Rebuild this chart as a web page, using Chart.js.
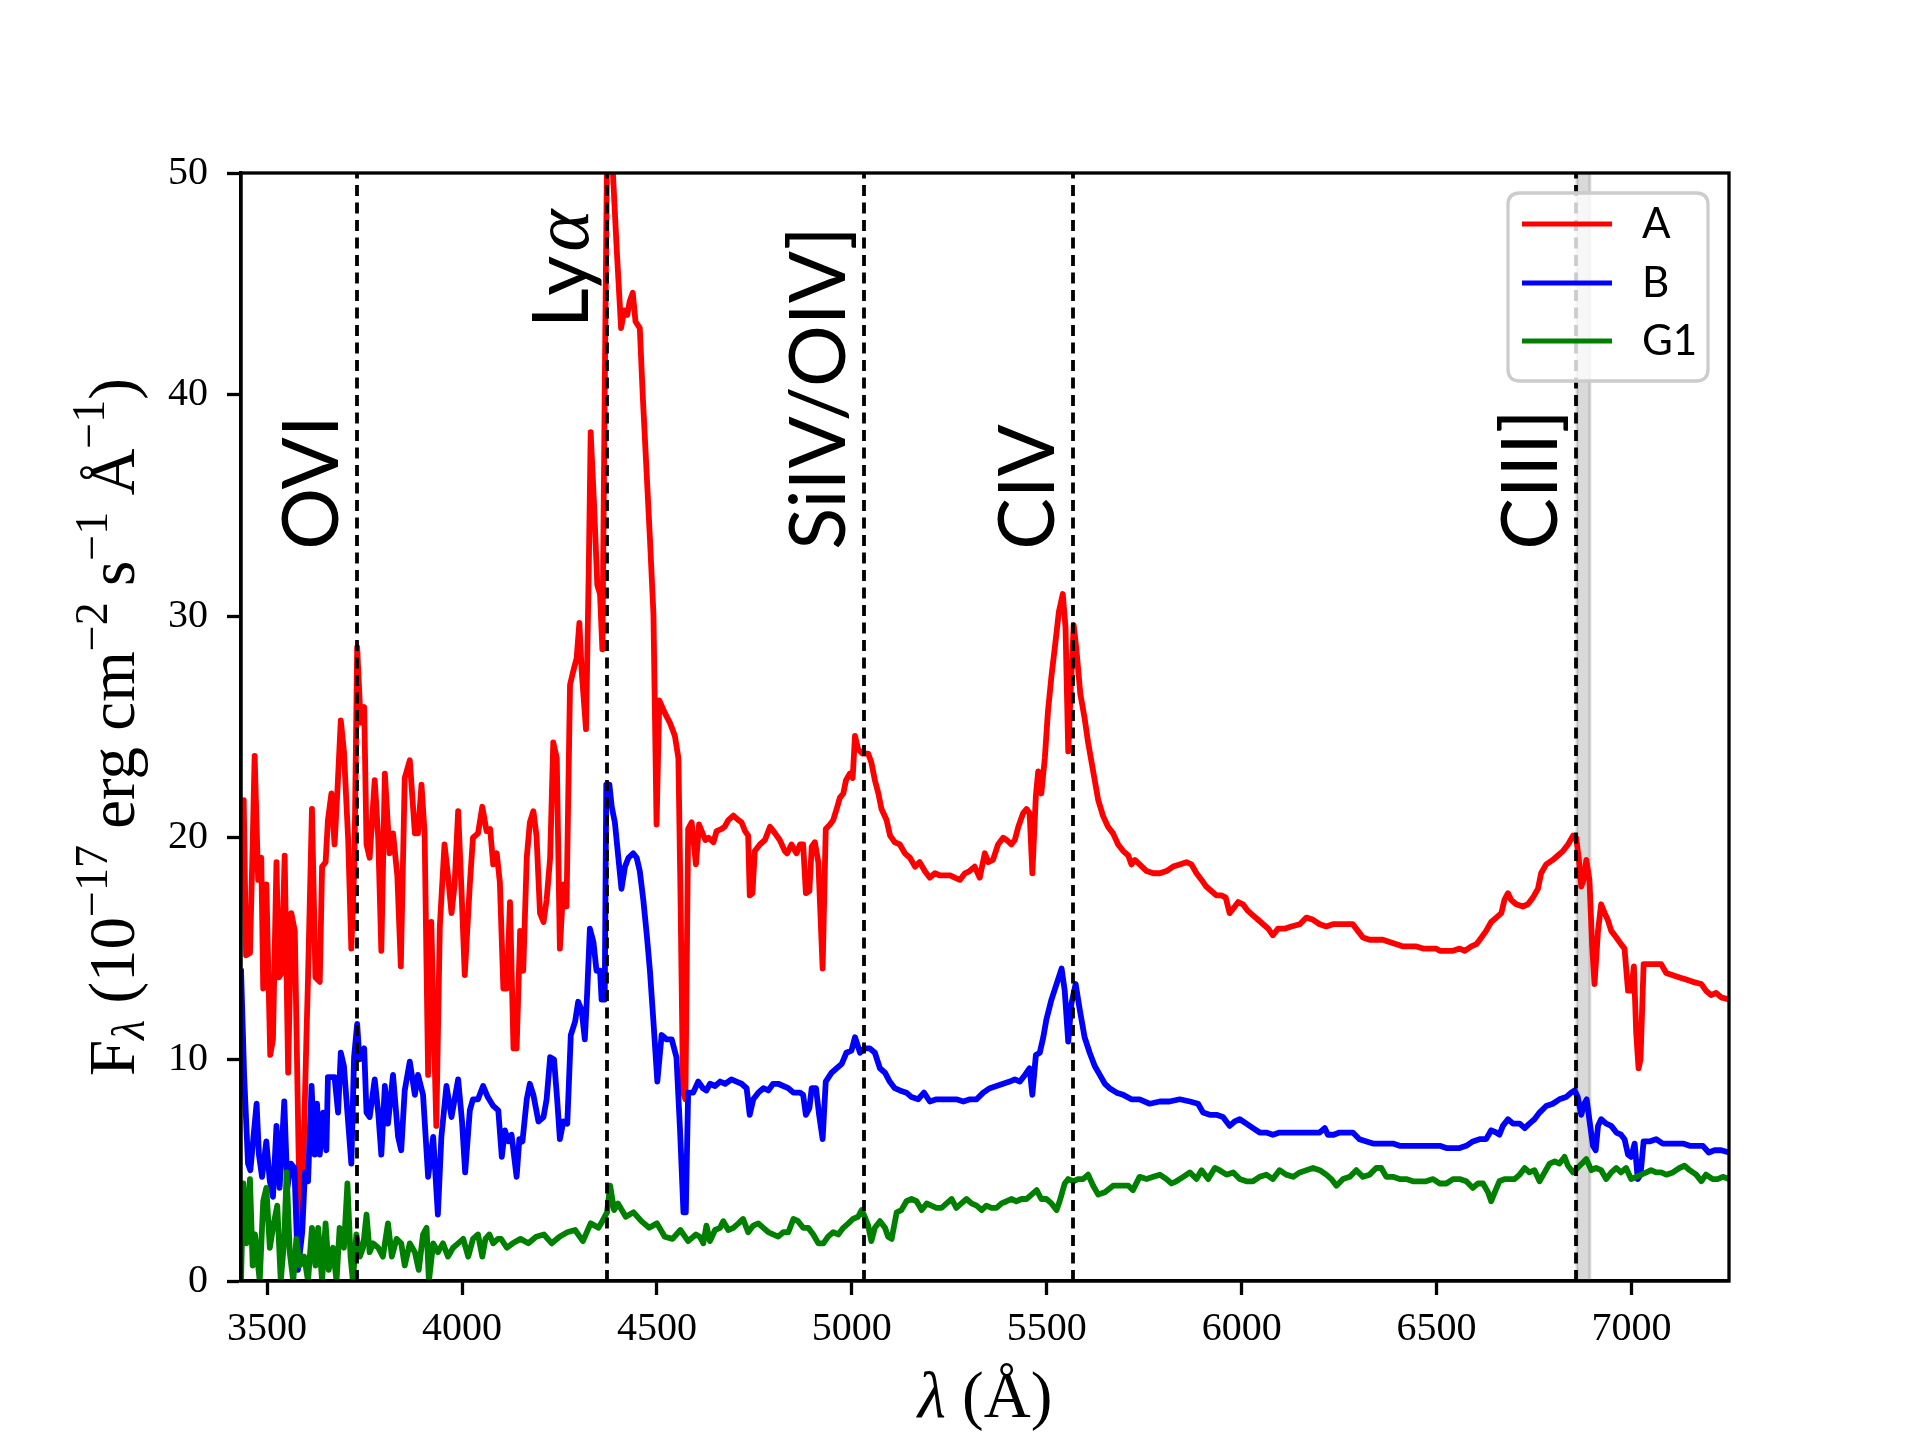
<!DOCTYPE html>
<html>
<head>
<meta charset="utf-8">
<title>Spectra of A, B and G1</title>
<script src="https://cdn.jsdelivr.net/npm/chart.js@4.4.1/dist/chart.umd.min.js"></script>
<style>
  html, body { margin: 0; padding: 0; background: #fff; }
  #wrap { width: 1920px; height: 1440px; }
</style>
</head>
<body>
<div id="wrap"><canvas id="chart" width="1920" height="1440"></canvas></div>
<script>
// ---- data (wavelength in Å, flux in 1e-17 erg/cm2/s/Å) ----
const waveA = [
  3433,3440,3446,3456,3462,3468,3477,3485,3490,3498,
  3508,3515,3524,3530,3537,3545,3554,3562,3571,3584,
  3592,3601,3605,3615,3624,3635,3641,3650,3656,3665,
  3673,3680,3689,3697,3708,3716,3724,3731,3740,3749,
  3755,3763,3776,3785,3793,3802,3814,3823,3834,3843,
  3853,3866,3879,3887,3896,3904,3913,3921,3934,3943,
  3955,3964,3973,3981,3990,3998,4007,4020,4028,4041,
  4052,4063,4072,4080,4089,4097,4106,4115,4123,4132,
  4140,4149,4157,4166,4174,4183,4191,4200,4209,4217,
  4226,4234,4243,4251,4260,4268,4277,4285,4294,4301,
  4307,4318,4325,4330,4339,4347,4354,4360,4366,4372,
  4380,4387,4397,4408,4416,4424,4430,4438,4445,4456,
  4464,4474,4482,4491,4499,4506,4521,4533,4546,4555,
  4560,4567,4573,4580,4589,4600,4608,4624,4632,4645,
  4653,4666,4674,4683,4696,4709,4717,4726,4734,4738,
  4745,4751,4764,4777,4790,4803,4815,4828,4834,4845,
  4858,4867,4875,4882,4891,4897,4905,4914,4925,4933,
  4944,4952,4961,4969,4978,4985,4995,5002,5008,5016,
  5027,5042,5050,5059,5068,5076,5089,5098,5110,5123,
  5136,5149,5162,5174,5187,5200,5213,5226,5239,5252,
  5264,5277,5290,5302,5315,5328,5341,5350,5362,5375,
  5388,5397,5409,5418,5427,5439,5448,5456,5463,5472,
  5478,5486,5495,5503,5512,5522,5531,5541,5548,5555,
  5561,5569,5576,5586,5597,5606,5615,5623,5632,5644,
  5657,5670,5683,5696,5709,5717,5726,5738,5756,5773,
  5790,5807,5824,5841,5858,5871,5884,5897,5909,5922,
  5935,5948,5959,5969,5978,5991,6003,6016,6029,6042,
  6055,6068,6080,6093,6110,6127,6149,6166,6183,6200,
  6217,6234,6251,6268,6285,6298,6311,6328,6345,6362,
  6379,6397,6414,6431,6448,6465,6482,6499,6508,6525,
  6542,6559,6572,6589,6602,6615,6627,6640,6653,6666,
  6674,6683,6691,6704,6721,6734,6747,6760,6768,6781,
  6798,6811,6824,6837,6850,6858,6865,6871,6877,6884,
  6892,6899,6905,6914,6922,6931,6939,6948,6961,6973,
  6982,6991,6999,7006,7012,7018,7023,7031,7046,7063,
  7076,7089,7106,7123,7140,7157,7179,7191,7204,7217,
  7230,7250
];
const fluxA = [
  18.0,21.7,14.7,14.8,19.0,23.7,18.1,19.1,13.2,17.9,
  10.2,10.9,18.9,13.7,13.9,19.2,9.4,16.6,15.8,2.5,
  4.7,11.1,13.7,21.3,13.7,13.5,18.7,18.9,20.8,22.0,
  19.7,22.0,25.3,23.9,19.9,15.0,18.9,28.6,25.2,25.9,
  19.7,19.1,22.6,20.0,14.9,22.9,19.3,20.2,18.3,14.2,
  22.7,23.5,20.2,20.2,22.4,20.2,9.3,16.2,7.0,16.0,
  19.7,18.3,16.6,17.9,21.2,17.9,13.8,17.9,20.0,20.2,
  21.4,20.3,20.4,18.8,19.3,18.0,13.2,13.2,17.1,10.5,
  10.5,15.8,14.0,19.1,20.7,21.2,20.1,16.6,16.2,17.2,
  19.1,24.3,23.6,15.0,17.9,16.9,26.9,27.5,28.1,29.7,
  27.5,24.9,32.0,38.3,34.9,31.4,31.0,28.5,40.0,51.0,
  52.0,50.0,46.5,43.0,43.8,43.6,44.2,44.6,43.3,43.0,
  39.8,36.3,33.5,30.1,20.6,26.2,25.6,25.2,24.6,23.6,
  17.9,8.5,8.2,20.4,20.7,18.8,20.6,19.9,20.0,19.8,
  20.3,20.4,20.5,20.8,21.0,20.8,20.7,20.3,20.1,17.4,
  17.5,19.4,19.7,19.9,20.5,20.2,19.9,19.4,19.3,19.7,
  19.3,19.7,19.7,17.5,17.6,19.6,19.8,18.9,14.1,20.4,
  20.6,20.8,21.3,21.8,22.0,22.6,22.9,22.7,24.6,24.0,
  23.8,23.8,23.4,22.6,22.0,21.3,20.8,20.1,19.8,19.7,
  19.3,19.1,18.7,18.9,18.5,18.2,18.4,18.3,18.3,18.3,
  18.2,18.1,18.4,18.5,18.7,18.2,19.3,18.9,19.0,19.7,
  20.0,19.9,19.7,19.9,20.5,21.1,21.3,21.1,18.4,21.9,
  23.0,22.0,23.6,25.7,27.3,28.8,30.2,31.0,29.5,23.9,
  26.5,29.6,28.5,26.5,25.4,24.3,23.4,22.6,21.7,21.0,
  20.5,20.2,19.7,19.4,19.2,18.8,19.0,18.8,18.5,18.4,
  18.4,18.5,18.7,18.8,18.9,18.8,18.4,18.1,17.8,17.6,
  17.4,17.4,17.3,16.6,16.8,17.1,17.0,16.7,16.5,16.3,
  16.1,15.9,15.6,15.9,15.9,16.0,16.1,16.4,16.3,16.1,
  16.0,16.1,16.1,16.1,16.1,15.8,15.5,15.4,15.4,15.4,
  15.3,15.2,15.1,15.1,15.1,15.0,15.0,15.0,14.9,14.9,
  14.9,15.0,14.9,15.1,15.2,15.5,15.8,16.2,16.4,16.6,
  17.2,17.5,17.2,17.0,16.9,17.0,17.3,17.7,18.4,18.8,
  19.0,19.2,19.4,19.7,20.1,20.0,19.0,17.8,18.1,19.0,
  18.1,15.1,13.4,15.8,17.0,16.6,16.3,15.8,15.5,15.2,
  15.0,13.1,13.1,14.2,11.2,9.6,10.0,14.3,14.3,14.3,
  14.3,13.9,13.8,13.7,13.6,13.5,13.4,13.1,12.9,13.0,
  12.8,12.7
];

const waveB = [
  3433,3441,3451,3457,3473,3479,3487,3498,3507,3515,
  3524,3532,3544,3552,3561,3570,3579,3590,3597,3605,
  3614,3622,3628,3635,3644,3652,3656,3673,3682,3689,
  3697,3706,3716,3723,3731,3737,3749,3755,3763,3776,
  3785,3793,3802,3810,3823,3836,3844,3853,3866,3879,
  3887,3900,3913,3926,3938,3947,3960,3973,3990,4000,
  4008,4020,4028,4041,4054,4066,4080,4093,4102,4110,
  4119,4127,4140,4147,4155,4166,4174,4183,4196,4209,
  4217,4226,4236,4244,4251,4260,4270,4279,4290,4298,
  4307,4315,4321,4328,4337,4345,4354,4358,4366,4370,
  4378,4384,4392,4401,4409,4418,4427,4439,4448,4456,
  4465,4474,4482,4491,4501,4512,4525,4538,4550,4559,
  4568,4574,4580,4593,4606,4618,4627,4636,4649,4662,
  4675,4691,4704,4717,4730,4738,4747,4760,4773,4786,
  4798,4811,4824,4837,4850,4867,4875,4882,4891,4897,
  4908,4916,4925,4933,4948,4961,4974,4986,4999,5008,
  5021,5033,5046,5059,5072,5085,5097,5110,5123,5140,
  5153,5170,5185,5200,5217,5234,5251,5268,5286,5303,
  5320,5337,5354,5371,5388,5405,5418,5431,5444,5456,
  5463,5472,5482,5491,5499,5512,5525,5538,5546,5555,
  5563,5574,5585,5597,5610,5623,5636,5649,5661,5679,
  5696,5717,5738,5764,5790,5815,5841,5867,5888,5901,
  5918,5935,5952,5969,5982,5995,6012,6029,6046,6063,
  6080,6097,6115,6132,6149,6166,6183,6200,6213,6221,
  6236,6251,6268,6285,6302,6320,6337,6354,6371,6388,
  6405,6422,6439,6456,6473,6490,6508,6525,6542,6559,
  6576,6593,6610,6627,6640,6653,6661,6670,6683,6696,
  6713,6726,6738,6751,6764,6781,6798,6815,6832,6845,
  6854,6862,6871,6879,6885,6894,6901,6908,6914,6922,
  6935,6948,6961,6973,6982,6991,6999,7008,7016,7023,
  7031,7046,7063,7080,7097,7115,7132,7149,7166,7183,
  7198,7213,7230,7250
];
const fluxB = [
  14.1,9.3,5.3,5.0,8.0,5.7,4.7,6.3,4.5,3.8,
  7.0,4.2,8.1,4.2,5.3,5.1,0.5,2.2,4.9,4.5,
  8.8,5.7,8.0,5.7,7.6,5.9,9.2,9.2,7.6,10.3,
  9.7,7.6,5.3,10.1,11.6,10.0,10.5,7.6,7.4,9.1,
  7.6,5.7,8.8,7.1,9.3,6.5,5.9,8.6,9.9,8.4,
  9.3,8.4,4.7,6.5,3.0,6.5,8.8,7.4,9.1,7.2,
  4.9,7.7,8.2,8.2,8.8,8.3,7.9,7.7,5.6,6.8,
  6.3,6.6,4.7,6.4,6.3,8.2,8.9,8.4,7.2,7.4,
  8.2,10.1,10.0,8.2,6.4,7.2,7.1,11.1,11.7,12.6,
  12.2,10.9,13.0,15.9,15.3,14.0,14.0,12.7,12.7,22.4,
  22.4,21.4,20.7,19.1,17.7,18.7,19.1,19.3,19.1,18.5,
  17.2,15.6,14.0,11.7,9.0,11.1,10.9,10.9,10.1,6.9,
  3.1,3.1,8.5,8.5,9.0,8.7,8.6,8.9,8.8,9.0,
  8.9,9.1,9.0,8.9,8.7,7.5,8.2,8.5,8.7,8.6,
  8.9,8.9,8.8,8.7,8.5,8.5,8.4,7.5,7.8,8.7,
  8.7,7.5,6.4,9.0,9.4,9.6,9.8,10.3,10.4,11.0,
  10.3,10.5,10.5,10.3,9.6,9.4,9.0,8.7,8.6,8.5,
  8.3,8.2,8.5,8.1,8.2,8.2,8.2,8.2,8.1,8.2,
  8.2,8.5,8.7,8.8,8.9,9.0,9.1,9.0,9.3,9.6,
  8.4,10.2,10.3,11.0,11.8,12.7,13.4,14.1,13.1,10.8,
  12.5,13.4,12.2,11.0,10.3,9.7,9.3,8.9,8.7,8.5,
  8.4,8.2,8.2,8.0,8.1,8.1,8.2,8.1,8.0,7.6,
  7.5,7.5,7.4,7.0,7.2,7.3,7.1,6.9,6.7,6.7,
  6.6,6.7,6.7,6.7,6.7,6.7,6.7,6.7,6.9,6.6,
  6.6,6.7,6.7,6.7,6.4,6.3,6.2,6.2,6.2,6.2,
  6.1,6.1,6.1,6.1,6.1,6.1,6.1,6.0,6.0,6.0,
  6.1,6.3,6.4,6.4,6.8,6.7,6.6,7.0,7.3,7.1,
  7.1,6.9,7.1,7.3,7.6,7.9,8.0,8.2,8.3,8.5,
  8.6,8.3,7.5,8.0,8.2,7.0,6.1,5.9,7.0,7.3,
  7.1,7.0,6.7,6.6,6.4,5.7,5.6,6.2,4.6,4.8,
  6.3,6.3,6.4,6.2,6.2,6.2,6.2,6.1,6.1,6.1,
  5.8,5.9,5.9,5.8
];

const waveG = [
  3433,3439,3447,3456,3463,3469,3481,3490,3498,3507,
  3515,3526,3535,3544,3550,3558,3567,3575,3584,3595,
  3605,3615,3624,3631,3641,3650,3658,3669,3678,3686,
  3697,3706,3714,3720,3729,3738,3746,3755,3763,3772,
  3785,3797,3810,3820,3832,3844,3853,3866,3879,3889,
  3900,3909,3915,3926,3938,3951,3964,3977,3990,4003,
  4016,4028,4041,4052,4060,4070,4080,4092,4100,4115,
  4130,4150,4170,4190,4210,4230,4250,4270,4290,4310,
  4330,4350,4360,4372,4380,4390,4400,4420,4440,4460,
  4480,4500,4520,4540,4560,4580,4600,4610,4619,4627,
  4636,4649,4662,4670,4683,4696,4709,4721,4734,4747,
  4760,4773,4786,4798,4811,4824,4837,4850,4862,4875,
  4888,4901,4914,4927,4939,4952,4965,4978,4991,5003,
  5016,5025,5033,5042,5050,5059,5072,5085,5093,5102,
  5115,5127,5140,5153,5166,5179,5192,5204,5217,5230,
  5243,5256,5268,5281,5294,5307,5320,5333,5345,5358,
  5371,5384,5397,5409,5422,5435,5448,5461,5474,5486,
  5499,5512,5525,5533,5546,5555,5568,5580,5593,5606,
  5619,5632,5649,5670,5691,5709,5721,5738,5756,5773,
  5790,5807,5820,5832,5850,5867,5884,5897,5914,5931,
  5943,5961,5978,5995,6012,6029,6046,6063,6080,6097,
  6114,6132,6149,6166,6183,6200,6217,6230,6243,6260,
  6277,6294,6311,6328,6345,6358,6371,6388,6405,6422,
  6439,6456,6473,6491,6508,6525,6542,6559,6576,6593,
  6606,6619,6632,6640,6649,6661,6674,6687,6700,6713,
  6726,6738,6751,6764,6777,6790,6803,6815,6828,6837,
  6850,6867,6884,6897,6909,6922,6935,6948,6961,6973,
  6986,6999,7012,7025,7038,7050,7063,7076,7089,7106,
  7123,7136,7149,7166,7179,7191,7208,7221,7234,7250
];
const fluxG = [
  0.0,4.4,1.7,4.6,0.7,2.1,0.0,3.6,4.2,1.5,
  2.4,3.4,0.0,1.9,4.9,1.3,0.0,1.9,0.7,1.1,
  0.0,2.4,0.7,2.4,0.0,2.6,0.5,1.5,0.0,2.4,
  1.5,4.4,1.1,0.0,2.1,1.1,1.5,3.0,1.3,1.7,
  1.5,1.1,2.6,1.1,1.9,1.7,0.7,1.7,1.3,0.5,
  2.1,2.4,0.0,1.7,1.3,1.7,1.1,1.5,1.7,1.9,
  1.1,1.9,2.1,1.1,1.9,2.1,1.7,1.9,1.9,1.5,
  1.7,1.9,1.7,2.0,2.1,1.7,2.0,2.2,2.3,1.8,
  2.6,2.4,2.7,3.1,4.3,3.2,3.5,2.9,3.1,2.7,
  2.4,2.6,2.0,1.9,2.3,1.8,2.1,2.0,1.7,2.5,
  1.8,2.3,2.4,2.7,2.3,2.4,2.6,2.8,2.2,2.5,
  2.6,2.4,2.2,2.1,2.0,2.2,2.2,2.8,2.7,2.4,
  2.4,2.1,1.7,1.7,2.0,2.2,2.1,2.4,2.6,2.8,
  2.9,3.2,2.9,2.5,1.8,2.4,2.7,2.4,2.0,1.9,
  3.1,3.2,3.6,3.7,3.6,3.2,3.5,3.4,3.3,3.3,
  3.5,3.7,3.3,3.5,3.7,3.5,3.4,3.2,3.4,3.3,
  3.3,3.5,3.6,3.7,3.6,3.7,3.7,3.9,4.1,3.7,
  3.7,3.5,3.2,3.6,4.4,4.6,4.5,4.6,4.6,4.8,
  4.3,3.9,4.0,4.3,4.3,4.3,4.1,4.7,4.6,4.7,
  4.8,4.6,4.4,4.5,4.7,4.9,4.6,5.0,4.6,5.1,
  5.0,4.8,4.9,4.6,4.5,4.5,4.7,4.8,4.6,5.0,
  4.8,4.7,4.9,5.0,5.1,5.0,4.8,4.6,4.3,4.6,
  4.7,5.0,4.7,4.8,5.1,5.1,4.7,4.7,4.6,4.6,
  4.5,4.5,4.5,4.6,4.4,4.4,4.6,4.6,4.5,4.2,
  4.4,4.4,4.0,3.6,4.0,4.5,4.6,4.6,4.6,4.8,
  5.1,4.9,5.0,4.5,4.9,5.3,5.4,5.3,5.6,5.2,
  4.9,5.2,5.5,5.0,5.1,5.0,4.6,4.9,5.1,4.9,
  5.1,4.6,4.7,4.8,4.9,5.0,4.9,4.9,4.8,4.9,
  5.1,5.2,5.0,4.8,4.5,4.8,4.6,4.6,4.7,4.6
];

const seriesNames = ['A', 'B', 'G1'];
const seriesColors = ['#ff0000', '#0000ff', '#008000'];

const xTicks = [3500, 4000, 4500, 5000, 5500, 6000, 6500, 7000];
const yTicks = [0, 10, 20, 30, 40, 50];

// emission lines (observed wavelength) and where their labels start
const lineNames = ['OVI', 'Lyα', 'SiIV/OIV]', 'CIV', 'CIII]'];
const lineWaves = [3731, 4371, 5031, 5567, 6858];
const lineLabelY = [33, 43, 33, 33, 33];
const bandRange = [6860, 6893];

const SERIF = "'Liberation Serif', 'DejaVu Serif', serif";
const SANS = "Lato, 'Open Sans', sans-serif";
const LINE_W = 5.8;

function toPoints(w, f) {
  return w.map((v, i) => ({ x: v, y: f[i] }));
}

// draw a run of text pieces (sub/superscripts) centred on cx
function drawRich(ctx, parts, cx, baseY) {
  let total = 0;
  parts.forEach(p => {
    ctx.font = (p.it ? 'italic ' : '') + p.size + 'px ' + SERIF;
    p.w = ctx.measureText(p.t).width;
    total += p.w;
  });
  let xx = cx - total / 2;
  parts.forEach(p => {
    ctx.font = (p.it ? 'italic ' : '') + p.size + 'px ' + SERIF;
    ctx.fillText(p.t, xx, baseY + (p.dy || 0));
    xx += p.w;
  });
}

function roundRect(ctx, x, y, w, h, r) {
  ctx.beginPath();
  ctx.moveTo(x + r, y);
  ctx.lineTo(x + w - r, y);
  ctx.quadraticCurveTo(x + w, y, x + w, y + r);
  ctx.lineTo(x + w, y + h - r);
  ctx.quadraticCurveTo(x + w, y + h, x + w - r, y + h);
  ctx.lineTo(x + r, y + h);
  ctx.quadraticCurveTo(x, y + h, x, y + h - r);
  ctx.lineTo(x, y + r);
  ctx.quadraticCurveTo(x, y, x + r, y);
  ctx.closePath();
}

const decor = {
  id: 'decor',
  beforeDatasetsDraw(chart) {
    const { ctx, chartArea: a, scales: { x } } = chart;
    const x0 = x.getPixelForValue(bandRange[0]);
    const x1 = x.getPixelForValue(bandRange[1]);
    ctx.save();
    ctx.fillStyle = 'rgba(128,128,128,0.3)';
    ctx.fillRect(x0, a.top, x1 - x0, a.bottom - a.top);
    ctx.strokeStyle = 'rgba(128,128,128,0.3)';
    ctx.lineWidth = 3;
    ctx.beginPath();
    ctx.moveTo(x0, a.top); ctx.lineTo(x0, a.bottom);
    ctx.moveTo(x1, a.top); ctx.lineTo(x1, a.bottom);
    ctx.stroke();
    ctx.restore();
  },
  afterDatasetsDraw(chart) {
    const { ctx, chartArea: a, scales: { x, y } } = chart;
    ctx.save();

    // dashed line markers
    ctx.strokeStyle = '#000';
    ctx.lineWidth = 3.8;
    ctx.setLineDash([11, 6.5]);
    lineWaves.forEach(w => {
      const px = Math.round(x.getPixelForValue(w));
      ctx.beginPath();
      ctx.moveTo(px, a.bottom);
      ctx.lineTo(px, a.top);
      ctx.stroke();
    });
    ctx.setLineDash([]);

    // the sans labels are squeezed to the width of the original font
    ctx.font = '77px ' + SANS;
    const squeeze = 323 / ctx.measureText('SiIV/OIV]').width;

    ctx.fillStyle = '#000';
    ctx.textBaseline = 'alphabetic';
    ctx.textAlign = 'left';
    lineNames.forEach((name, i) => {
      const px = x.getPixelForValue(lineWaves[i]) - 19;
      const py = y.getPixelForValue(lineLabelY[i]);
      ctx.save();
      ctx.translate(px, py);
      ctx.rotate(-Math.PI / 2);
      ctx.scale(squeeze, 1);
      if (name.endsWith('α')) {
        const head = name.slice(0, -1);
        ctx.font = '77px ' + SANS;
        ctx.fillText(head, 0, 0);
        const hw = ctx.measureText(head).width;
        ctx.font = 'italic 80px ' + SERIF;
        ctx.fillText('α', hw + 4, 0);
      } else {
        ctx.font = '77px ' + SANS;
        ctx.fillText(name, 0, 0);
      }
      ctx.restore();
    });

    // frame
    ctx.strokeStyle = '#000';
    ctx.lineWidth = 3.3;
    ctx.strokeRect(a.left, a.top, a.right - a.left, a.bottom - a.top);

    // legend box
    ctx.fillStyle = 'rgba(255,255,255,0.8)';
    ctx.strokeStyle = '#cccccc';
    ctx.lineWidth = 3.3;
    roundRect(ctx, 1508, 193, 200, 188, 12);
    ctx.fill();
    ctx.stroke();
    const rows = [224, 283, 341];
    seriesNames.forEach((name, i) => {
      ctx.strokeStyle = seriesColors[i];
      ctx.lineWidth = 5;
      ctx.beginPath();
      ctx.moveTo(1522, rows[i]);
      ctx.lineTo(1612, rows[i]);
      ctx.stroke();
      ctx.save();
      ctx.translate(1642, rows[i]);
      ctx.scale(squeeze, 1);
      ctx.fillStyle = '#000';
      ctx.font = '42px ' + SANS;
      ctx.textBaseline = 'middle';
      ctx.fillText(name, 0, 0);
      ctx.restore();
    });
    ctx.restore();
  },
  afterDraw(chart) {
    const { ctx, chartArea: a } = chart;
    ctx.save();
    ctx.fillStyle = '#000';
    ctx.textBaseline = 'alphabetic';
    ctx.textAlign = 'left';

    // x axis title
    drawRich(ctx, [
      { t: 'λ', size: 65, it: true },
      { t: ' (Å)', size: 65 }
    ], (a.left + a.right) / 2, 1417);

    // y axis title
    ctx.translate(134, (a.top + a.bottom) / 2);
    ctx.rotate(-Math.PI / 2);
    drawRich(ctx, [
      { t: 'F', size: 65 },
      { t: 'λ', size: 46, dy: 10, it: true },
      { t: ' (10', size: 65 },
      { t: '−17', size: 46, dy: -27 },
      { t: ' erg cm', size: 65 },
      { t: '−2', size: 46, dy: -27 },
      { t: ' s', size: 65 },
      { t: '−1', size: 46, dy: -27 },
      { t: ' Å', size: 65 },
      { t: '−1', size: 46, dy: -30 },
      { t: ')', size: 65 }
    ], 0, 0);
    ctx.restore();
  }
};

const fluxSets = [toPoints(waveA, fluxA), toPoints(waveB, fluxB), toPoints(waveG, fluxG)];

new Chart(document.getElementById('chart'), {
  type: 'line',
  data: {
    datasets: seriesNames.map((name, i) => ({
      label: name,
      data: fluxSets[i],
      borderColor: seriesColors[i],
      backgroundColor: seriesColors[i],
      borderWidth: LINE_W,
      pointRadius: 0,
      tension: 0,
      fill: false,
      clip: 0,
      borderJoinStyle: 'round',
      order: 3 - i
    }))
  },
  options: {
    responsive: false,
    devicePixelRatio: 1,
    animation: false,
    events: [],
    layout: { padding: { top: 173, right: 191, bottom: 0, left: 0 } },
    plugins: { legend: { display: false }, tooltip: { enabled: false } },
    scales: {
      x: {
        type: 'linear',
        min: 3433,
        max: 7250,
        afterBuildTicks: s => { s.ticks = xTicks.map(v => ({ value: v })); },
        afterFit: s => { s.height = 159; },
        ticks: {
          autoSkip: false,
          maxRotation: 0,
          padding: 10,
          color: '#000',
          font: { family: SERIF, size: 40 },
          callback: v => String(v)
        },
        grid: { display: true, drawOnChartArea: false, drawTicks: true, tickLength: 14, tickWidth: 3.3, tickColor: '#000' },
        border: { display: true, color: '#000', width: 3.3 }
      },
      y: {
        min: 0,
        max: 50,
        afterBuildTicks: s => { s.ticks = yTicks.map(v => ({ value: v })); },
        afterFit: s => { s.width = 241; },
        ticks: {
          padding: 19,
          color: '#000',
          font: { family: SERIF, size: 40 },
          callback: v => String(v)
        },
        grid: { display: true, drawOnChartArea: false, drawTicks: true, tickLength: 14, tickWidth: 3.3, tickColor: '#000' },
        border: { display: true, color: '#000', width: 3.3 }
      }
    }
  },
  plugins: [decor]
});
</script>
</body>
</html>
